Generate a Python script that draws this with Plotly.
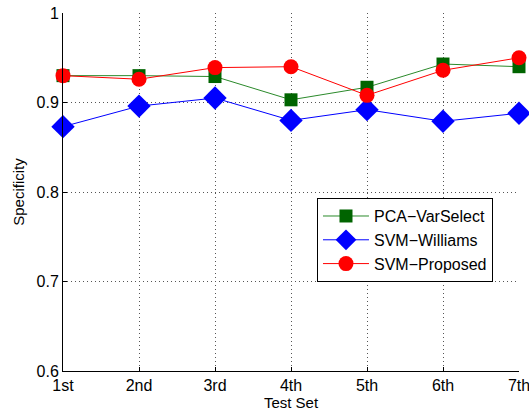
import plotly.graph_objects as go

categories = ["1st", "2nd", "3rd", "4th", "5th", "6th", "7th"]
x_pos = [1, 2, 3, 4, 5, 6, 7]
pca_varselect = [0.930, 0.930, 0.929, 0.903, 0.917, 0.943, 0.940]
svm_williams = [0.873, 0.896, 0.905, 0.880, 0.892, 0.879, 0.888]
svm_proposed = [0.930, 0.926, 0.939, 0.940, 0.908, 0.936, 0.950]
y_ticks = [0.6, 0.7, 0.8, 0.9, 1.0]
y_labels = ["0.6", "0.7", "0.8", "0.9", "1"]

fig = go.Figure()
fig.add_trace(go.Scatter(
    x=x_pos, y=pca_varselect, name="PCA\u2212VarSelect", mode="lines+markers",
    line=dict(color="#2b8a2b", width=1),
    marker=dict(symbol="square", size=13, color="#006400", line=dict(width=0)),
    cliponaxis=False))
fig.add_trace(go.Scatter(
    x=x_pos, y=svm_williams, name="SVM\u2212Williams", mode="lines+markers",
    line=dict(color="#0000ff", width=1),
    marker=dict(symbol="diamond", size=18, color="#0000ff", line=dict(width=0)),
    cliponaxis=False))
fig.add_trace(go.Scatter(
    x=x_pos, y=svm_proposed, name="SVM\u2212Proposed", mode="lines+markers",
    line=dict(color="#ff0000", width=1),
    marker=dict(symbol="circle", size=15, color="#ff0000", line=dict(width=0)),
    cliponaxis=False))

fam = "Liberation Sans, Arial, sans-serif"
tick_font = dict(family=fam, size=16, color="black")
title_font = dict(family=fam, size=15, color="black")

fig.update_layout(
    width=529, height=412,
    margin=dict(l=63, r=10, t=13, b=41),
    paper_bgcolor="white", plot_bgcolor="white",
    font=tick_font,
    showlegend=True,
    legend=dict(
        x=0.557, y=0.483, xanchor="left", yanchor="top",
        bgcolor="white", bordercolor="black", borderwidth=1,
        font=dict(family=fam, size=16, color="black"),
        itemwidth=46, tracegroupgap=0,
    ),
)
fig.update_xaxes(
    range=[1, 7], tickmode="array", tickvals=x_pos, ticktext=categories,
    showline=True, linecolor="black", linewidth=1,
    ticks="inside", ticklen=4, tickcolor="black",
    showgrid=True, gridcolor="#555555", griddash="1px,3px", gridwidth=1,
    zeroline=False, automargin=False, ticklabeloverflow="allow",
    title=dict(text="Test Set", standoff=0, font=title_font),
    tickfont=tick_font,
)
fig.update_yaxes(
    range=[0.6, 1.0], tickmode="array", tickvals=y_ticks, ticktext=y_labels,
    showline=True, linecolor="black", linewidth=1,
    ticks="inside", ticklen=4, tickcolor="black",
    showgrid=True, gridcolor="#555555", griddash="1px,3px", gridwidth=1,
    zeroline=False, automargin=False, ticklabeloverflow="allow",
    title=dict(text="Specificity", standoff=8, font=title_font),
    tickfont=tick_font,
)

fig.write_html("out.html", config={"displayModeBar": False},
               post_script="document.body.style.margin='0';")
